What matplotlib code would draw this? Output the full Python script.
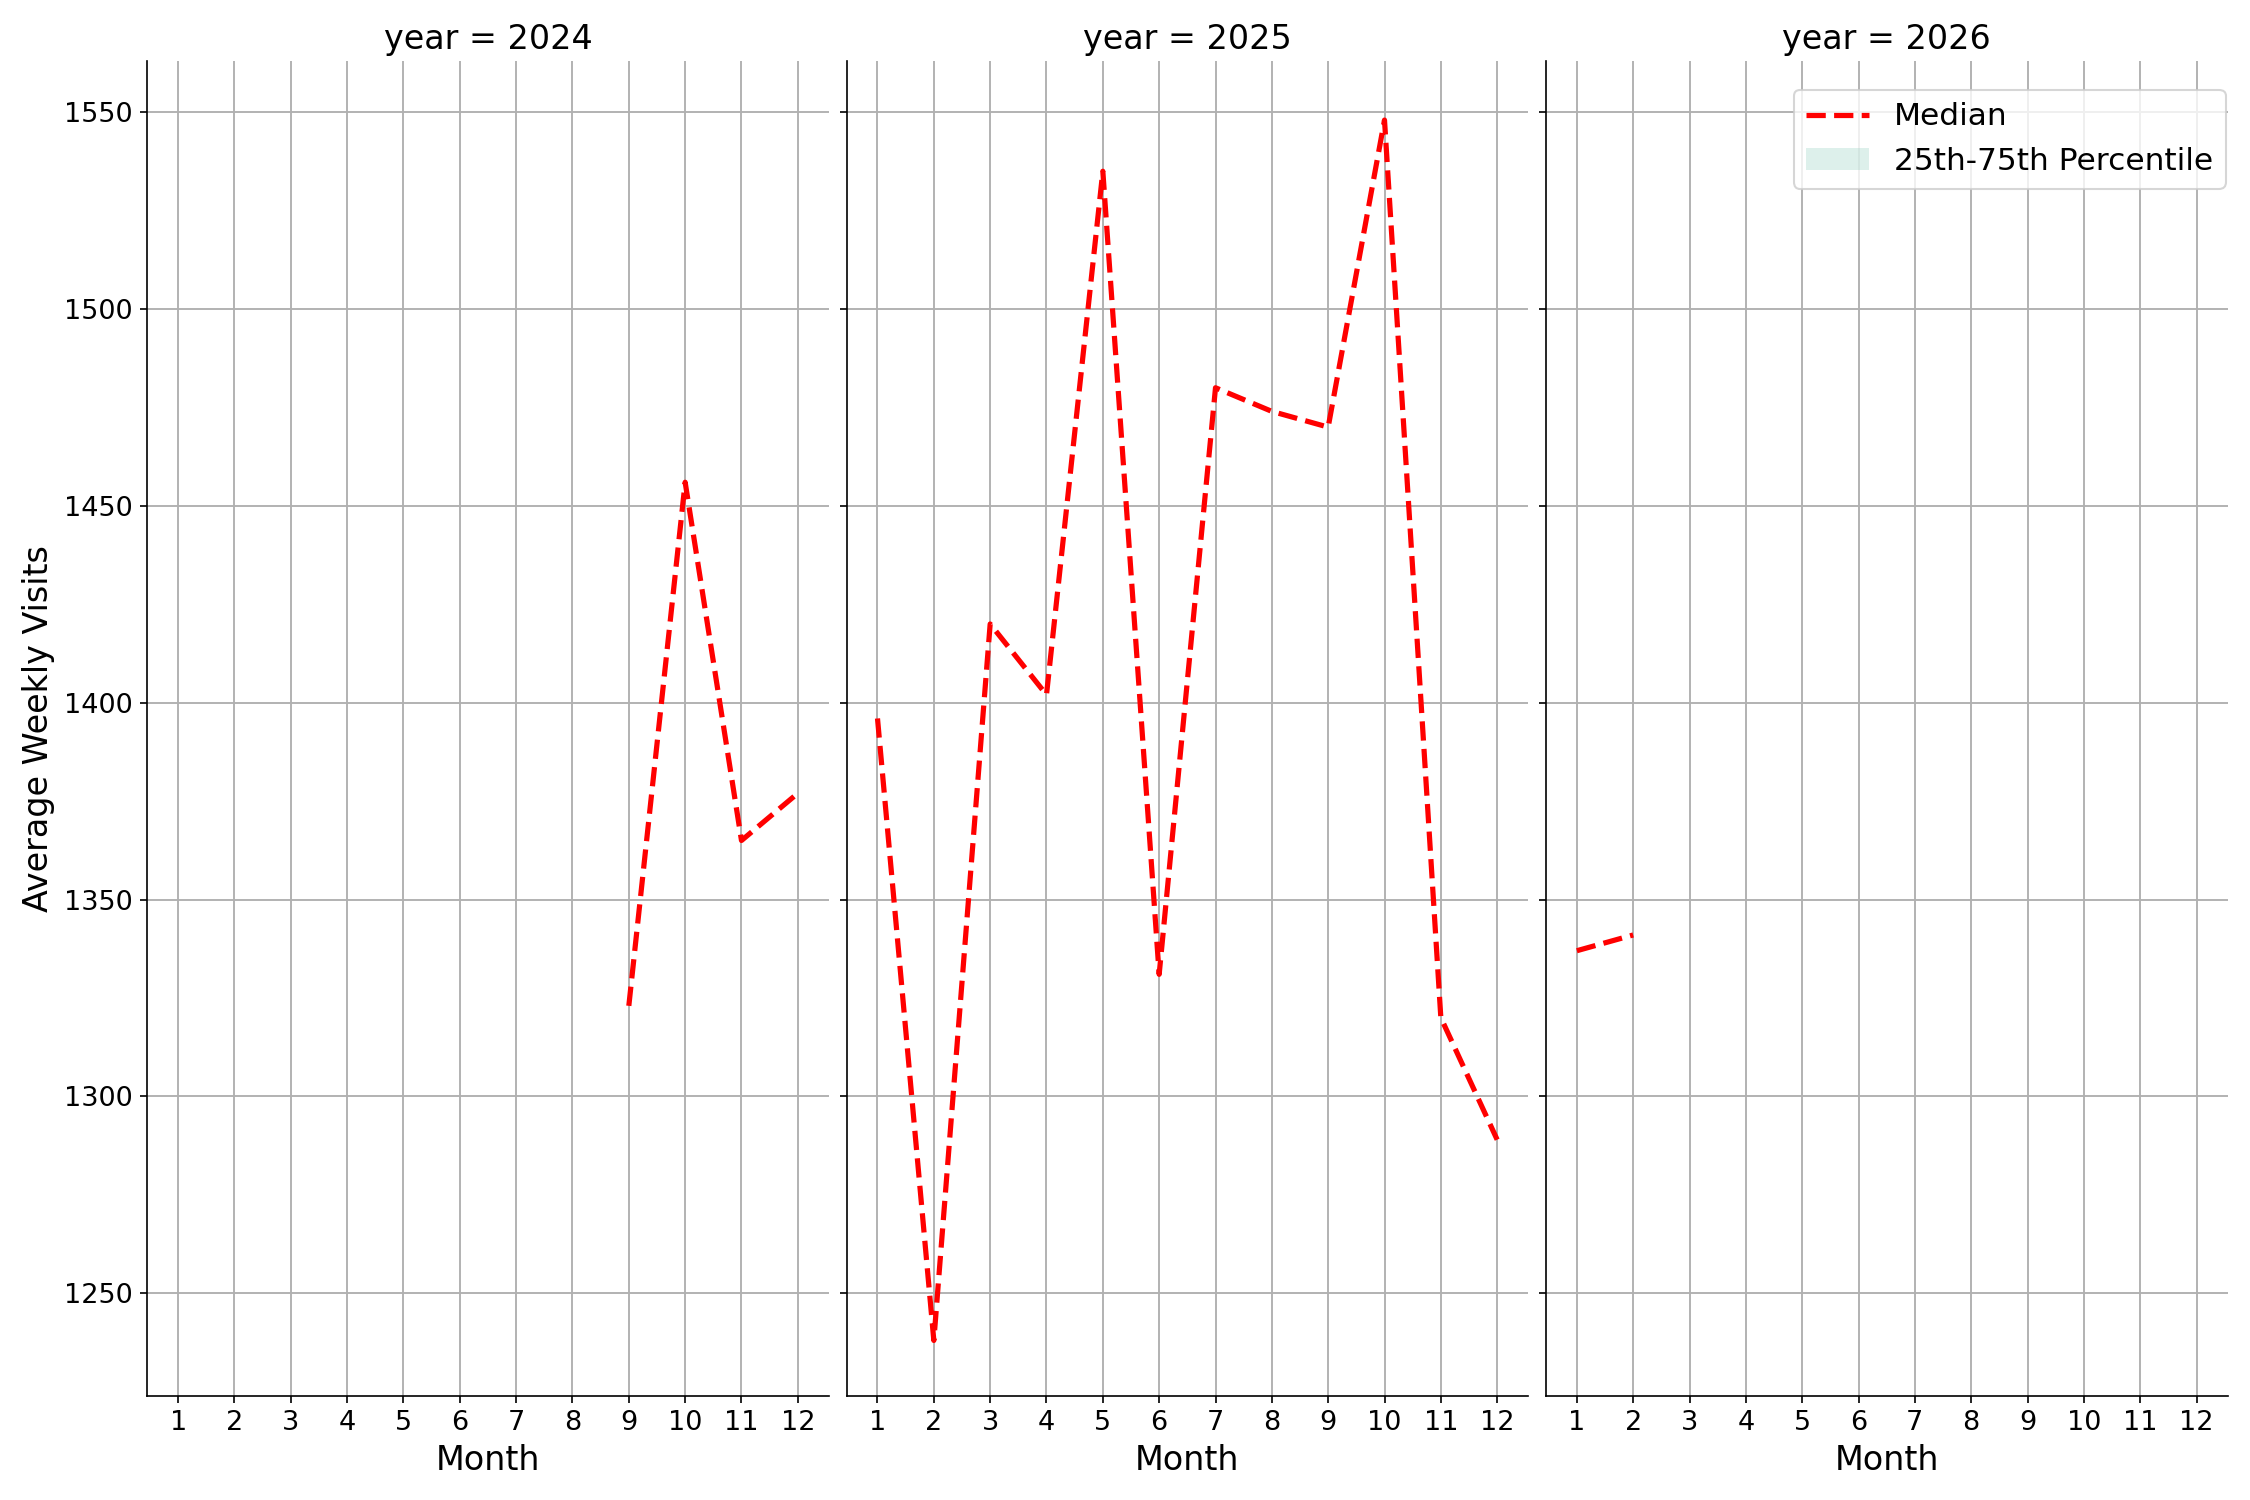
import matplotlib
matplotlib.use("Agg")
import matplotlib.pyplot as plt
from matplotlib.patches import Patch
from matplotlib.lines import Line2D

YEARS = [2024, 2025, 2026]
MONTHS = {
    2024: [9, 10, 11, 12],
    2025: [1, 2, 3, 4, 5, 6, 7, 8, 9, 10, 11, 12],
    2026: [1, 2],
}
MEDIAN = {
    2024: [1323, 1456, 1365, 1377],
    2025: [1396, 1238, 1420, 1402, 1535, 1331, 1480, 1474, 1470, 1548, 1320, 1289],
    2026: [1337, 1341],
}

fig, axes = plt.subplots(1, 3, figsize=(15, 10), sharey=True, dpi=150)
for ax, year in zip(axes, YEARS):
    ax.plot(MONTHS[year], MEDIAN[year], color="red", linestyle="--", linewidth=2.5)
    ax.set_title(f"year = {year}", fontsize=16)
    ax.set_xticks(range(1, 13))
    ax.set_xlim(0.45, 12.55)
    ax.tick_params(labelsize=13)
    ax.grid(True, color="#b0b0b0", linewidth=0.9)
    ax.set_axisbelow(True)
    ax.spines[["top", "right"]].set_visible(False)
    ax.set_xlabel("Month", fontsize=16)
axes[0].set_ylim(1224, 1563)
axes[0].set_ylabel("Average Weekly Visits", fontsize=16)

handles = [
    Line2D([], [], color="red", linestyle="--", linewidth=2.5),
    Patch(facecolor="#8fd0bf", alpha=0.3),
]
axes[2].legend(handles, ["Median", "25th-75th Percentile"], loc="upper right",
               fontsize=15, bbox_to_anchor=(1.02, 0.99))

plt.tight_layout(w_pad=0.5)
fig.savefig("out.png", dpi=150)
